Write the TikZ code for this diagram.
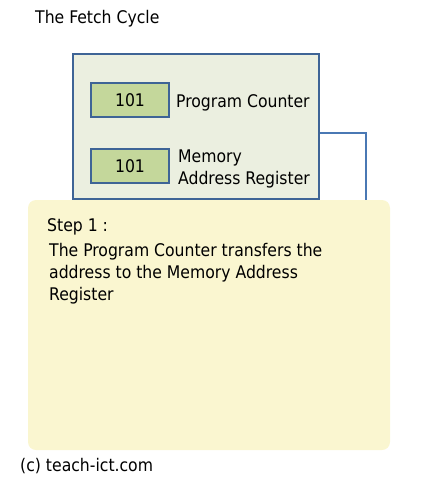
\documentclass[tikz,border=0pt]{standalone}
\usepackage{fontspec}
\setmainfont{DejaVu Sans Condensed}
\usetikzlibrary{positioning}
\definecolor{edgeblue}{RGB}{62,100,150}
\definecolor{wireblue}{RGB}{74,120,180}
\definecolor{cpufill}{RGB}{235,239,224}
\definecolor{regfill}{RGB}{196,215,155}
\definecolor{notefill}{RGB}{250,246,208}
\begin{document}
\begin{tikzpicture}[
                x=1pt,y=-1pt,
                every node/.style={font=\fontsize{17.4}{22}\selectfont,inner sep=0pt},
                cpubox/.style={draw=edgeblue,line width=2pt,fill=cpufill,minimum width=246pt,minimum height=145pt},
                regbox/.style={draw=edgeblue,line width=2pt,fill=regfill,minimum width=78pt,minimum height=34pt},
                regname/.style={align=left,yshift=-2.5pt},
                notebox/.style={fill=notefill,rounded corners=8pt,minimum width=362pt,minimum height=250pt},
                wire/.style={draw=wireblue,line width=2pt}
            ]
            \useasboundingbox (0,0) rectangle (433,483);

            \node[anchor=base west] (title) at (35,23) {The Fetch Cycle};

            % processor with its two registers
            \node[cpubox] (cpu) at (196,126.5) {};
            \node[regbox] (pc) at (130,100) {101};
            \node[regbox] (mar) at (130,166) {101};
            \node[regname,right=6pt of pc] (pcname) {Program Counter};
            \node[regname,right=8pt of mar] (marname) {Memory\\Address Register};

            % bus going down behind the note
            \coordinate (busend) at (366,215);
            \draw[wire] ([yshift=-6.5pt]cpu.east) -| (busend);

            % explanation
            \node[notebox] (note) at (209,325) {};
            \node[anchor=base west] (steptitle) at (47,231) {Step 1 :};
            \node[anchor=base west,align=left] (steptext) at (49,300)
                {The Program Counter transfers the\\address to the Memory Address\\Register};

            \node[anchor=base west] (credit) at (20,471) {(c) teach-ict.com};
        \end{tikzpicture}
\end{document}
